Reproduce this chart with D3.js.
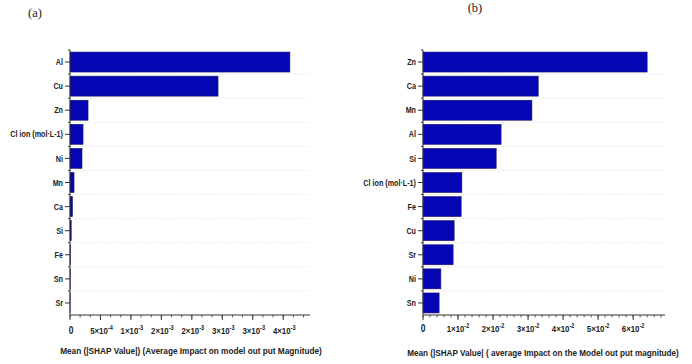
<!DOCTYPE html>
<html><head><meta charset="utf-8">
<script src="https://cdn.jsdelivr.net/npm/d3@7"></script>
<style>
body{margin:0;background:#fff;}
svg{display:block;}
</style></head>
<body>
<svg id="c" width="692" height="364"></svg>
<script>
// Panel (a)
const catsA = ["Al","Cu","Zn","Cl ion (mol·L-1)","Ni","Mn","Ca","Si","Fe","Sn","Sr"];
const valsA = [0.00361,0.00243,0.000296,0.000214,0.000197,0.000066,0.00004,0.00002,0.000006,0.000003,0.000002];
const ticksA = [0,0.0005,0.001,0.0015,0.002,0.0025,0.003,0.0035];
const tickMantA = ["0","5","1","2","2","3","3","4"];
const tickExpA = ["","-4","-3","-3","-3","-3","-3","-3"];
// Panel (b)
const catsB = ["Zn","Ca","Mn","Al","Si","Cl ion (mol·L-1)","Fe","Cu","Sr","Ni","Sn"];
const valsB = [0.064,0.0329,0.0311,0.0223,0.0209,0.0111,0.0109,0.0089,0.0086,0.0051,0.0046];
const ticksB = [0,0.01,0.02,0.03,0.04,0.05,0.06];
const tickMantB = ["0","1","2","3","4","5","6"];
const tickExpB = ["","-2","-2","-2","-2","-2","-2"];

const svg = d3.select("#c");
const FONT = "'Liberation Sans',Arial,sans-serif";
const SX = 0.8; // horizontal condensing of the narrow font

function panel(o){
  const g = svg.append("g");
  const x = d3.scaleLinear().domain([0,o.xmax]).range([o.x0,o.x1]);
  const y = d3.scaleBand().domain(o.cats).range([50,315]).paddingInner(0.17).paddingOuter(0.085);
  const step = y.step();
  const bounds = o.cats.slice(1).map((c)=>y(c)-y.paddingInner()*step/2);
  g.selectAll(".grid").data(bounds).join("line")
    .attr("x1",o.x0).attr("x2",o.x1).attr("y1",d=>d).attr("y2",d=>d)
    .attr("stroke","#dadada").attr("stroke-width",0.8).attr("stroke-dasharray","1,1.5");
  g.selectAll(".bar").data(o.vals).join("rect")
    .attr("x",x(0)).attr("y",(d,i)=>y(o.cats[i]))
    .attr("width",d=>Math.max(0,x(d)-x(0))).attr("height",y.bandwidth())
    .attr("fill","#0505b4").attr("stroke","#1a1a66").attr("stroke-width",0.6);
  // y axis
  g.append("line").attr("x1",o.x0).attr("x2",o.x0).attr("y1",50).attr("y2",315)
    .attr("stroke","#333").attr("stroke-width",1);
  g.selectAll(".ytk").data(o.cats).join("line")
    .attr("x1",o.x0-5).attr("x2",o.x0).attr("y1",d=>y(d)+y.bandwidth()/2).attr("y2",d=>y(d)+y.bandwidth()/2)
    .attr("stroke","#333").attr("stroke-width",1);
  g.selectAll(".ymin").data([50].concat(bounds)).join("line")
    .attr("x1",o.x0-2).attr("x2",o.x0).attr("y1",d=>d).attr("y2",d=>d)
    .attr("stroke","#333").attr("stroke-width",1);
  g.selectAll(".ylab").data(o.cats).join("text")
    .attr("transform",d=>`translate(${o.x0-7},${y(d)+y.bandwidth()/2}) scale(${SX},1)`)
    .attr("dy","0.35em")
    .attr("text-anchor","end").attr("font-family",FONT).attr("font-weight","bold")
    .attr("font-size",9).attr("fill","#222").text(d=>d);
  // x axis
  g.append("line").attr("x1",o.x0).attr("x2",o.x1).attr("y1",315).attr("y2",315)
    .attr("stroke","#333").attr("stroke-width",1);
  const minor = d3.range(0,o.xmax+1e-12,o.minor);
  g.selectAll(".xmin").data(minor).join("line")
    .attr("x1",d=>x(d)).attr("x2",d=>x(d)).attr("y1",315).attr("y2",317.5)
    .attr("stroke","#333").attr("stroke-width",0.8);
  g.selectAll(".xtk").data(o.ticks).join("line")
    .attr("x1",d=>x(d)).attr("x2",d=>x(d)).attr("y1",315).attr("y2",320)
    .attr("stroke","#333").attr("stroke-width",1);
  const tl = g.selectAll(".xlab").data(o.ticks).join("text")
    .attr("transform",d=>`translate(${x(d)+o.tlOff},${o.tly}) scale(${SX},1)`)
    .attr("text-anchor","middle")
    .attr("font-family",FONT).attr("font-weight","bold").attr("font-size",9.8).attr("fill","#222");
  tl.each(function(d,i){
    const t = d3.select(this);
    if(o.exp[i]===""){ t.text(o.mant[i]).attr("font-size",10.5); return; }
    t.append("tspan").text(o.mant[i]+"×10");
    t.append("tspan").attr("dy",-3.8).attr("font-size",7).text(o.exp[i]);
  });
  const tt = g.append("text").attr("text-anchor","middle")
    .attr("font-family",FONT).attr("font-weight","bold").attr("font-size",9.5).attr("fill","#222")
    .text(o.title);
  const len = tt.node().getComputedTextLength();
  tt.attr("transform",`translate(${o.tx},${o.ty}) scale(${o.tw/len},1)`);
  g.append("text").attr("x",o.px).attr("y",o.py).attr("text-anchor","middle")
    .attr("font-family","'Liberation Serif','DejaVu Serif',serif").attr("font-size",12.5).attr("fill","#222")
    .text(o.plabel);
}

panel({cats:catsA,vals:valsA,ticks:ticksA,mant:tickMantA,exp:tickExpA,
  xmax:0.00394,x0:70,x1:310,minor:0.0005/3,tly:334,tlOff:1,
  title:"Mean (|SHAP Value|) (Average Impact on model out put Magnitude)",tx:191,ty:354,tw:262,
  plabel:"(a)",px:35,py:17});
panel({cats:catsB,vals:valsB,ticks:ticksB,mant:tickMantB,exp:tickExpB,
  xmax:0.0691,x0:423,x1:665,minor:0.002,tly:332,tlOff:0,
  title:"Mean (|SHAP Value| ( average Impact on the Model out put magnitude)",tx:543,ty:356,tw:272,
  plabel:"(b)",px:475,py:12});
</script>
</body></html>
